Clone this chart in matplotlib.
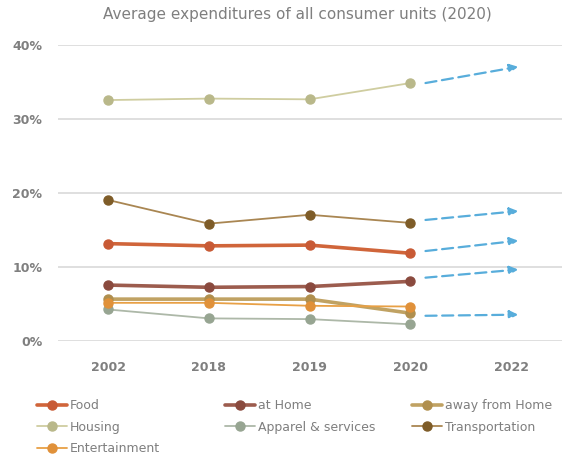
import matplotlib
matplotlib.use("Agg")
import matplotlib.pyplot as plt
from matplotlib.ticker import FuncFormatter

# ---- data ----
years = ["2002", "2018", "2019", "2020", "2022"]
food = [13.2, 12.9, 13.0, 11.9]
at_home = [7.6, 7.3, 7.4, 8.1]
away_from_home = [5.7, 5.7, 5.7, 3.8]
housing = [32.6, 32.8, 32.7, 34.9]
apparel = [4.3, 3.1, 3.0, 2.3]
transportation = [19.1, 15.9, 17.1, 16.0]
entertainment = [5.2, 5.2, 4.8, 4.7]

# projected trend arrows (value at start -> value at 2022)
trend_from = [34.9, 16.4, 12.2, 8.6, 3.45]
trend_to = [37.1, 17.6, 13.6, 9.7, 3.6]

y_ticks = [0, 10, 20, 30, 40]

series = [
    ("Food", food, "#D0653A", 2.6, "#C85A35"),
    ("at Home", at_home, "#9C5C4E", 2.6, "#8A4A3E"),
    ("away from Home", away_from_home, "#C0A263", 2.6, "#B08F4E"),
    ("Housing", housing, "#CFCDA0", 1.3, "#B9B88A"),
    ("Apparel & services", apparel, "#ADB8A8", 1.3, "#97A592"),
    ("Transportation", transportation, "#A98652", 1.3, "#7E5C28"),
    ("Entertainment", entertainment, "#E8A045", 1.3, "#E0913A"),
]

fig = plt.figure(figsize=(5.64, 4.59), dpi=100)
ax = fig.add_axes([0.1023, 0.2564, 0.8933, 0.6449])

handles = {}
xs = list(range(len(years) - 1))
for name, vals, col, lw, mcol in series:
    ln, = ax.plot(xs, vals, color=col, lw=lw, marker="o", ms=6.5,
                  markerfacecolor=mcol, markeredgecolor=mcol, label=name,
                  solid_capstyle="round", zorder=3)
    handles[name] = ln

x0, x1 = 3.15, 4.07
for a, b in zip(trend_from, trend_to):
    ax.annotate("", xy=(x1, b), xytext=(x0, a),
                arrowprops=dict(arrowstyle="-|>,head_length=0.5,head_width=0.25",
                                color="#58ADDB", lw=1.6, linestyle=(0, (5, 2.5)),
                                shrinkA=0, shrinkB=0), zorder=4)

ax.set_xlim(-0.5, 4.5)
ax.set_ylim(0, 40)
ax.set_xticks(range(len(years)))
ax.set_xticklabels(years)
ax.set_yticks(y_ticks)
ax.yaxis.set_major_formatter(FuncFormatter(lambda v, p: f"{int(v)}%"))
ax.grid(axis="y", color="#D9D9D9", lw=1.2)
ax.set_axisbelow(True)
for s in ax.spines.values():
    s.set_visible(False)
ax.tick_params(axis="both", length=0, labelsize=9, labelcolor="#7F7F7F")
ax.tick_params(axis="x", pad=14)
ax.tick_params(axis="y", pad=11)
for lab in ax.get_xticklabels() + ax.get_yticklabels():
    lab.set_fontweight("bold")

fig.text(297 / 564, 1 - 15 / 459, "Average expenditures of all consumer units (2020)",
         ha="center", va="center", fontsize=11, color="#7F7F7F")

cols = [["Food", "Housing", "Entertainment"],
        ["at Home", "Apparel & services"],
        ["away from Home", "Transportation"]]
col_x = [37, 225, 412]
for names, cx in zip(cols, col_x):
    fig.legend([handles[n] for n in names], names, loc="upper left",
               bbox_to_anchor=(cx / 564, 1 - 399 / 459), frameon=False,
               fontsize=9, labelcolor="#7F7F7F", handlelength=2.4,
               handletextpad=0.2, labelspacing=0.68, borderpad=0,
               borderaxespad=0)

fig.savefig("out.png", dpi=100)
